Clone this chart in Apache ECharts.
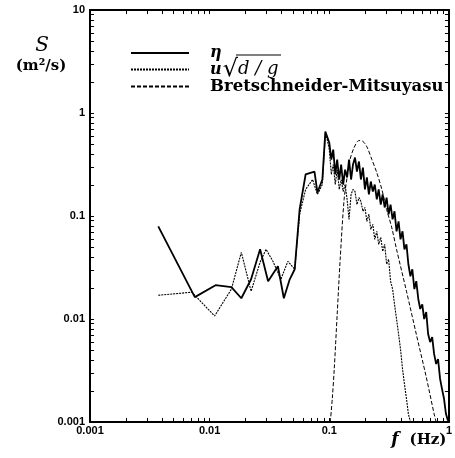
<!DOCTYPE html>
<html><head><meta charset="utf-8">
<script src="https://cdn.jsdelivr.net/npm/echarts@6/dist/echarts.min.js"></script>
<style>html,body{margin:0;padding:0;background:#fff}#c{width:455px;height:458px}</style>
</head><body><div id="c"></div>
<script>
// ---- tick labels ----
const xTickLabels = ['0.001', '0.01', '0.1', '1'];
const yTickLabels = ['0.001', '0.01', '0.1', '1', '10'];
const xLabelValues = [0.001, 0.01, 0.1, 1];
const yLabelValues = [0.001, 0.01, 0.1, 1, 10];

// ---- series names ----
const seriesNames = ['η', 'u√(d/g)', 'Bretschneider-Mitsuyasu'];

// ---- η (surface elevation) ----
const etaF = [0.00372, 0.00752, 0.0112, 0.0152, 0.0184, 0.0222, 0.0264, 0.0308, 0.0372, 0.0417, 0.0467, 0.0514, 0.0565, 0.0634, 0.0752, 0.0796, 0.0875, 0.0927,
  0.1, 0.104, 0.1079, 0.1122, 0.1164, 0.1211, 0.1256, 0.1306, 0.1355, 0.1409, 0.1462, 0.1521, 0.1578, 0.1641, 0.1702, 0.1770, 0.1837, 0.1910, 0.1986, 0.2061,
  0.2143, 0.2223, 0.2312, 0.2399, 0.2495, 0.2588, 0.2692, 0.2793, 0.2904, 0.3013, 0.3133, 0.3251, 0.3381, 0.3508, 0.3648, 0.3793, 0.3936, 0.4093, 0.4246, 0.4416,
  0.4581, 0.4764, 0.4943, 0.5140, 0.5333, 0.5546, 0.5754, 0.5984, 0.6209, 0.6457, 0.6699, 0.6966, 0.7244, 0.7516, 0.7816, 0.8110, 0.8433, 0.8750, 0.9099, 0.9441, 0.9817];
const etaS = [0.0793, 0.0163, 0.0213, 0.0204, 0.0159, 0.0243, 0.0475, 0.0233, 0.0325, 0.0159, 0.0243, 0.0304, 0.116, 0.253, 0.270, 0.169, 0.226, 0.659,
  0.515, 0.353, 0.441, 0.253, 0.353, 0.226, 0.316, 0.202, 0.282, 0.237, 0.353, 0.226, 0.316, 0.369, 0.270, 0.338, 0.226, 0.295, 0.181, 0.237,
  0.162, 0.216, 0.173, 0.202, 0.145, 0.181, 0.129, 0.162, 0.121, 0.151, 0.104, 0.129, 0.0927, 0.111, 0.0710, 0.0887, 0.0593, 0.0710, 0.0475, 0.0531,
  0.0340, 0.0260, 0.0304, 0.0195, 0.0233, 0.0156, 0.0125, 0.0139, 0.00998, 0.0117, 0.00715, 0.00597, 0.00668, 0.00458, 0.00366, 0.00409, 0.00262, 0.00210, 0.00168, 0.00120, 0.00103];

// ---- u*sqrt(d/g) ----
const uF = [0.00372, 0.00710, 0.0110, 0.0152, 0.0184, 0.0222, 0.0264, 0.0296, 0.0338, 0.0394, 0.0450, 0.0514, 0.0565, 0.0634, 0.0725, 0.0796, 0.0875, 0.0927,
  0.0961, 0.1, 0.104, 0.1079, 0.1122, 0.1164, 0.1211, 0.1256, 0.1306, 0.1355, 0.1409, 0.1462, 0.1521, 0.1578, 0.1641, 0.1702, 0.1770, 0.1837, 0.1910, 0.1986,
  0.2061, 0.2143, 0.2223, 0.2312, 0.2399, 0.2495, 0.2588, 0.2692, 0.2793, 0.2904, 0.3013, 0.3133, 0.3251, 0.3381, 0.3508, 0.3648, 0.3793, 0.3936, 0.4093,
  0.4246, 0.4416, 0.4581, 0.4764];
const uS = [0.0170, 0.0182, 0.0107, 0.0195, 0.0444, 0.0186, 0.0356, 0.0475, 0.0363, 0.0243, 0.0363, 0.0304, 0.104, 0.181, 0.226, 0.162, 0.202, 0.62,
  0.552, 0.441, 0.253, 0.316, 0.202, 0.282, 0.181, 0.226, 0.173, 0.202, 0.145, 0.0927, 0.162, 0.181, 0.173, 0.129, 0.151, 0.138, 0.111, 0.121,
  0.0887, 0.104, 0.0742, 0.0830, 0.0593, 0.0710, 0.0531, 0.0621, 0.0454, 0.0531, 0.0340, 0.0380, 0.0233, 0.0195, 0.0139, 0.00998, 0.00715, 0.00512, 0.00327,
  0.00234, 0.00168, 0.00120, 0.001];

// ---- Bretschneider-Mitsuyasu ----
const bmF = [0.1019, 0.1059, 0.110, 0.1164, 0.1233, 0.133, 0.1409, 0.149, 0.161, 0.177, 0.191, 0.2061, 0.227, 0.2495, 0.275, 0.3013, 0.332, 0.3648, 0.4416, 0.5333, 0.6457, 0.7516, 0.7816];
const bmS = [0.001, 0.00168, 0.00327, 0.0111, 0.0380, 0.145, 0.237, 0.353, 0.46, 0.54, 0.53, 0.47, 0.353, 0.263, 0.181, 0.116, 0.078, 0.0475, 0.0186, 0.00714, 0.00274, 0.00120, 0.001];

const pairs = (a, b) => a.map((v, i) => [v, b[i]]);
const tickSet = (lo, hi) => { const r = []; for (let e = lo; e < hi; e++) for (let k = 1; k < 10; k++) r.push(+(k * Math.pow(10, e)).toPrecision(3)); r.push(Math.pow(10, hi)); return r; };
const xTicks = tickSet(-3, 0);
const yTicks = tickSet(-3, 1);
const fmtX = v => xTickLabels[Math.round(Math.log10(v)) + 3];
const fmtY = v => yTickLabels[Math.round(Math.log10(v)) + 3];

const labelFont = { fontFamily: 'Liberation Sans', fontWeight: 'bold', fontSize: 11, color: '#000' };
const lineBlack = { color: '#000', width: 2 };
const serif = 'DejaVu Serif';

const chart = echarts.init(document.getElementById('c'), null, { renderer: 'canvas' });
chart.setOption({
  animation: false,
  backgroundColor: '#fff',
  grid: { left: 90, right: 3, top: 10, bottom: 36 },
  xAxis: [
    { type: 'log', logBase: 10, min: 0.001, max: 1, position: 'bottom',
      axisLine: { lineStyle: lineBlack },
      axisTick: { inside: true, length: 4, customValues: xTicks, lineStyle: { color: '#000' } },
      axisLabel: Object.assign({ customValues: xLabelValues, formatter: fmtX, margin: 3 }, labelFont),
      splitLine: { show: false } },
    { type: 'log', logBase: 10, min: 0.001, max: 1, position: 'top',
      axisLine: { lineStyle: lineBlack },
      axisTick: { inside: true, length: 4, customValues: xTicks, lineStyle: { color: '#000' } },
      axisLabel: { show: false }, splitLine: { show: false } }
  ],
  yAxis: [
    { type: 'log', logBase: 10, min: 0.001, max: 10, position: 'left',
      axisLine: { lineStyle: lineBlack },
      axisTick: { inside: true, length: 4, customValues: yTicks, lineStyle: { color: '#000' } },
      axisLabel: Object.assign({ customValues: yLabelValues, formatter: fmtY, margin: 5 }, labelFont),
      splitLine: { show: false } },
    { type: 'log', logBase: 10, min: 0.001, max: 10, position: 'right',
      axisLine: { lineStyle: lineBlack },
      axisTick: { inside: true, length: 4, customValues: yTicks, lineStyle: { color: '#000' } },
      axisLabel: { show: false }, splitLine: { show: false } }
  ],
  legend: {
    orient: 'vertical', left: 125, top: 40, itemWidth: 58, itemHeight: 12, itemGap: -3.5,
    itemStyle: { opacity: 0 },
    data: seriesNames,
    formatter: n => n === seriesNames[0] ? '{it|η}' : (n === seriesNames[1] ? '{it|u}{r|√}{iv|d / g}' : '{n|' + n + '}'),
    textStyle: {
      padding: [0, 0, 0, 16],
      rich: {
        it: { fontFamily: serif, fontStyle: 'italic', fontWeight: 'bold', fontSize: 16, lineHeight: 17, color: '#000' },
        r: { fontFamily: serif, fontSize: 24, lineHeight: 17, color: '#000', padding: [0, 0, 0, 1] },
        iv: { fontFamily: serif, fontStyle: 'italic', fontSize: 18, lineHeight: 17, color: '#000' },
        n: { fontFamily: serif, fontWeight: 'bold', fontSize: 16.5, lineHeight: 17, color: '#000' }
      }
    }
  },
  graphic: [
    { type: 'text', x: 42, y: 46, style: { text: 'S', font: 'italic 20px "DejaVu Serif"', fill: '#000', align: 'center', verticalAlign: 'middle' } },
    { type: 'text', x: 41, y: 66, style: { text: '(m²/s)', font: 'bold 15px "DejaVu Serif"', fill: '#000', align: 'center', verticalAlign: 'middle' } },
    { type: 'text', x: 395, y: 440, style: { text: 'f', font: 'italic bold 17px "DejaVu Serif"', fill: '#000', align: 'center', verticalAlign: 'middle' } },
    { type: 'text', x: 428, y: 440, style: { text: '(Hz)', font: 'bold 15px "DejaVu Serif"', fill: '#000', align: 'center', verticalAlign: 'middle' } },
    { type: 'line', shape: { x1: 236, y1: 55, x2: 281, y2: 55 }, style: { stroke: '#000', lineWidth: 1.2 } }
  ],
  series: [
    { name: seriesNames[0], type: 'line', data: pairs(etaF, etaS), symbol: 'none', lineStyle: { color: '#000', width: 1.8, type: 'solid' }, itemStyle: { color: '#000' }, z: 3 },
    { name: seriesNames[1], type: 'line', data: pairs(uF, uS), symbol: 'none', lineStyle: { color: '#000', width: 1.1, type: [2, 1] }, itemStyle: { color: '#000' }, z: 2 },
    { name: seriesNames[2], type: 'line', data: pairs(bmF, bmS), symbol: 'none', smooth: 0.3, lineStyle: { color: '#000', width: 1, type: [4, 2] }, itemStyle: { color: '#000' }, z: 2 }
  ]
});
</script>
</body></html>
